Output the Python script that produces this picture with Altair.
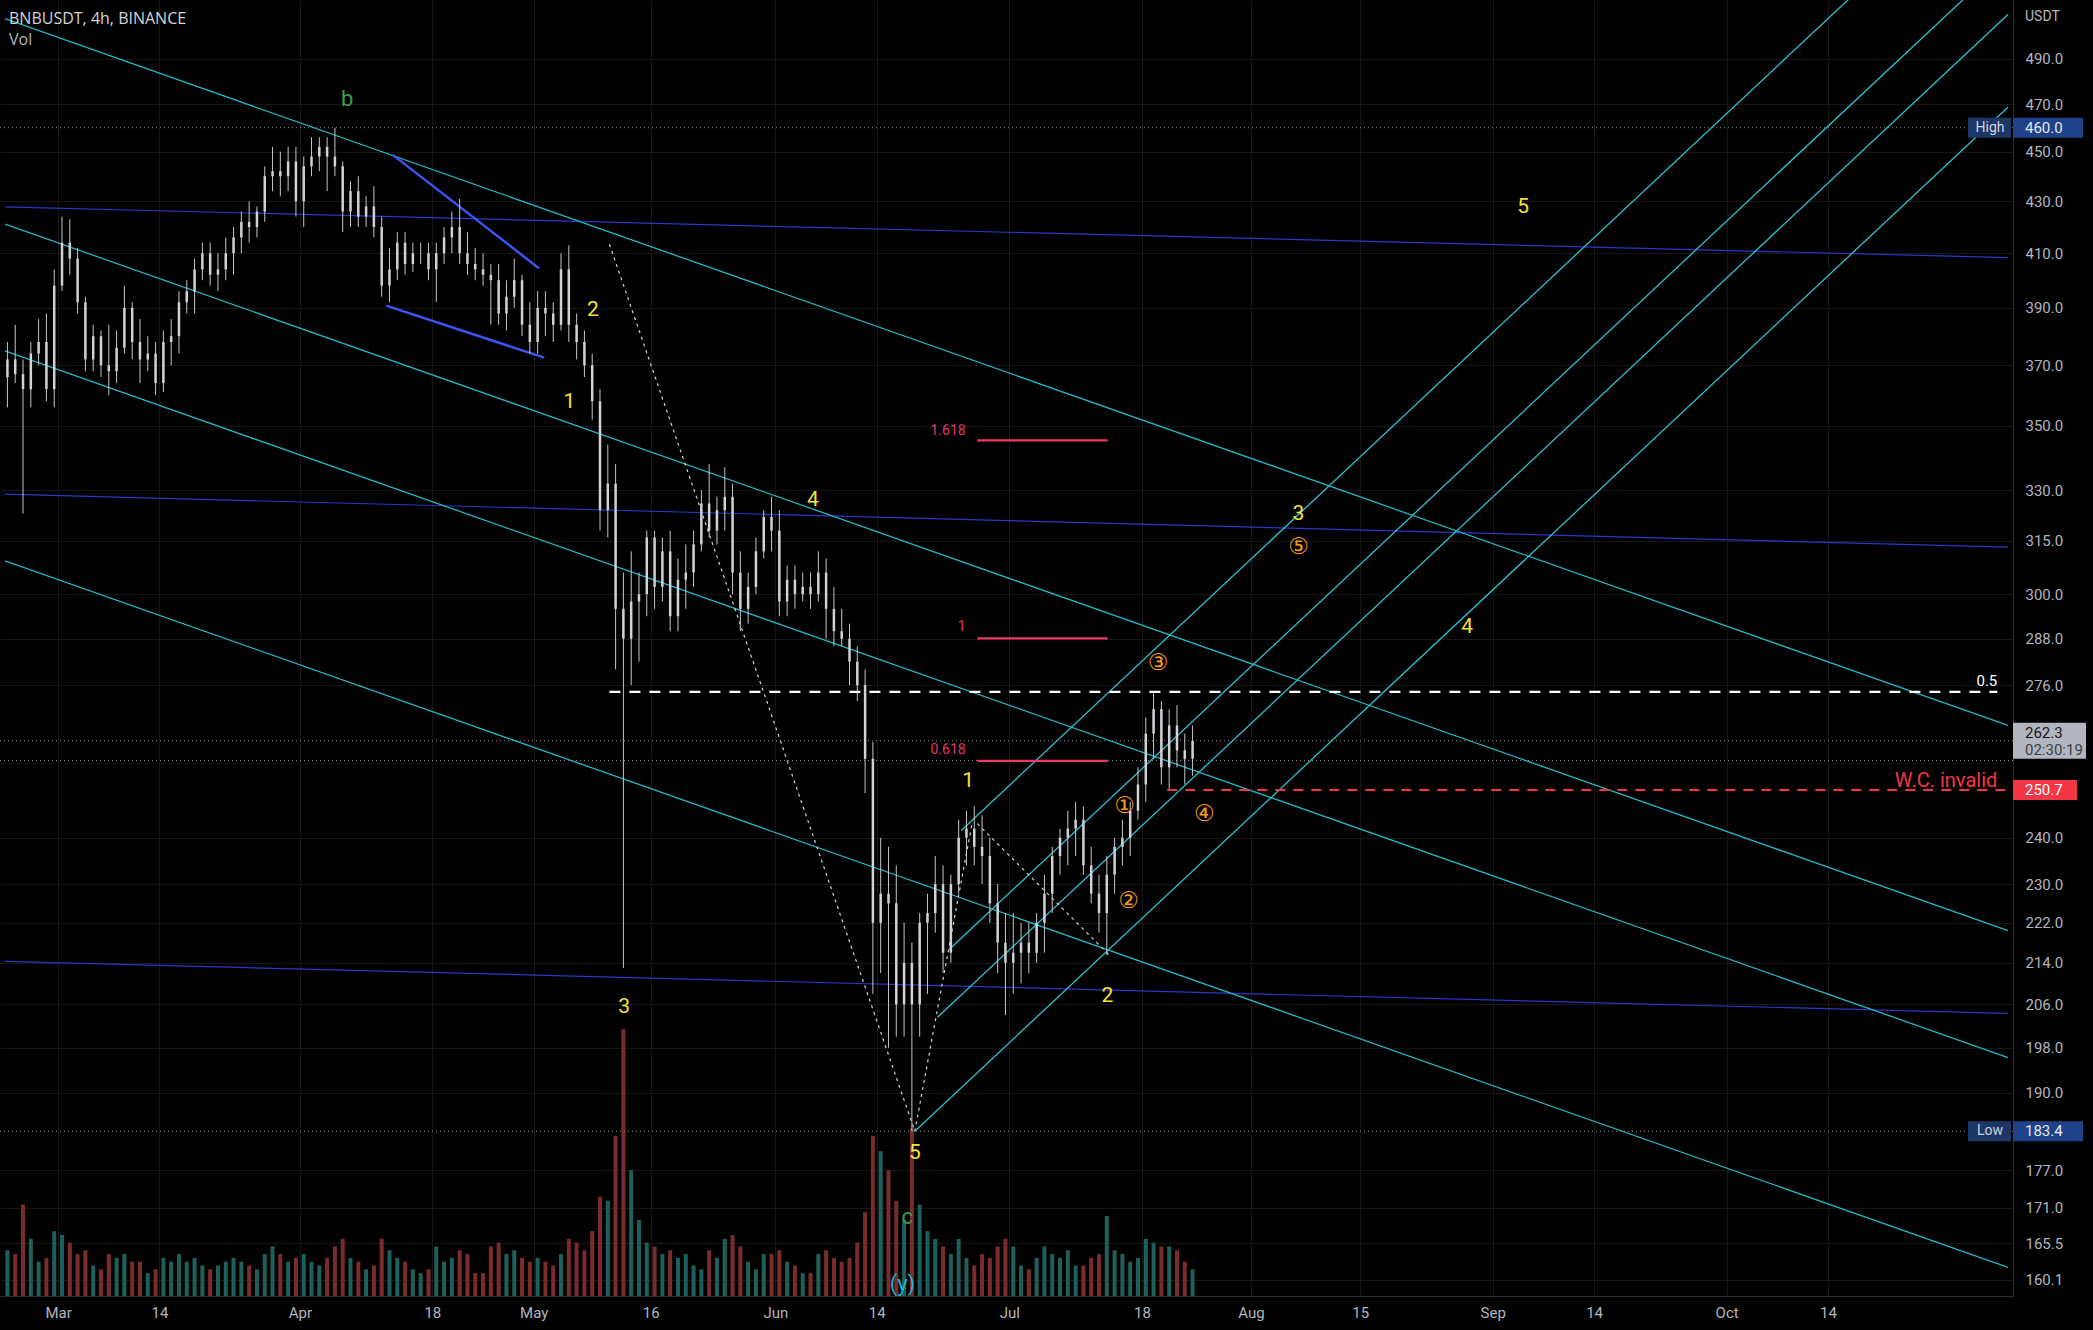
import altair as alt
import numpy as np
import pandas as pd

REF = pd.Timestamp("2022-03-01")


def to_days(values):
    return [float((pd.Timestamp(v) - REF) / pd.Timedelta(days=1)) for v in values]


# ---------------- axes ----------------
x_domain_dates = ["2022-02-22 04:30", "2022-11-06 02:00"]
y_domain = [157.7, 517.1]
x_tick_dates = ["2022-03-01", "2022-03-14", "2022-04-01", "2022-04-18", "2022-05-01", "2022-05-16",
                "2022-06-01", "2022-06-14", "2022-07-01", "2022-07-18", "2022-08-01", "2022-08-15",
                "2022-09-01", "2022-09-14", "2022-10-01", "2022-10-14"]
x_tick_labels = ["Mar", "14", "Apr", "18", "May", "16", "Jun", "14", "Jul", "18", "Aug", "15",
                 "Sep", "14", "Oct", "14"]
y_ticks = [490, 470, 450, 430, 410, 390, 370, 350, 330, 315, 300, 288, 276, 240, 230,
           222, 214, 206, 198, 190, 177, 171, 165.5, 160.1]

# ---------------- candles (daily, BNBUSDT) ----------------
first_day = "2022-02-22"
opens = [366, 372, 367, 362, 374, 378, 362,
         398, 414, 408, 392, 372, 380, 370, 368, 376, 390, 378, 372, 374, 364, 378, 380, 392, 396, 404, 410,
         402, 404, 410, 416, 422, 420, 426, 440, 442, 440, 446,
         430, 444, 448, 452, 448, 444, 426, 434, 424, 428, 420, 398, 404, 414, 406, 410, 410, 404, 410, 416,
         420, 410, 406, 404, 402, 400, 388, 394, 400, 384,
         378, 390, 388, 384, 404, 384, 378, 370, 358, 324, 332, 296, 288, 298, 300, 316, 302, 312, 294, 304,
         306, 314, 326, 318, 324, 328, 306, 296, 302, 312, 322,
         318, 298, 304, 300, 302, 300, 306, 296, 290, 288, 282, 276, 258, 222, 228, 226, 206, 214, 206, 222,
         224, 230, 216, 230, 240, 242, 238, 236, 226, 218,
         214, 216, 218, 216, 222, 228, 236, 240, 242, 244, 234, 228, 224, 232, 238, 240, 246, 252, 264, 270,
         256, 266, 260, 258]
highs = [378, 384, 372, 378, 386, 388, 404,
         424, 423, 412, 394, 384, 382, 384, 382, 398, 392, 386, 380, 378, 382, 386, 396, 400, 408, 414, 414,
         410, 416, 420, 426, 430, 428, 444, 452, 450, 452, 452,
         448, 456, 456, 456, 460, 446, 438, 440, 432, 436, 424, 412, 418, 418, 414, 414, 414, 414, 420, 426,
         431, 418, 412, 410, 406, 406, 400, 408, 402, 392,
         396, 396, 392, 410, 413, 388, 382, 374, 362, 344, 338, 306, 312, 306, 318, 318, 316, 318, 310, 314,
         318, 330, 338, 328, 337, 332, 312, 306, 316, 324, 328,
         324, 308, 308, 306, 306, 312, 310, 302, 296, 292, 286, 280, 262, 240, 238, 234, 222, 218, 224, 228,
         236, 234, 232, 244, 246, 247, 245, 240, 230, 224,
         224, 222, 222, 224, 232, 238, 242, 246, 248, 247, 238, 232, 236, 240, 244, 248, 256, 268, 274, 272,
         270, 271, 264, 266]
lows = [356, 364, 323, 356, 370, 358, 356,
        396, 402, 388, 368, 368, 366, 360, 364, 374, 372, 364, 368, 360, 361, 370, 374, 388, 388, 400, 398,
        396, 400, 402, 410, 414, 416, 422, 434, 432, 434, 424,
        420, 440, 442, 434, 440, 418, 420, 420, 420, 416, 394, 392, 400, 402, 403, 406, 400, 392, 406, 410,
        406, 402, 400, 398, 384, 384, 382, 390, 380, 374,
        374, 380, 378, 382, 378, 372, 366, 352, 318, 316, 280, 213, 276, 282, 294, 296, 298, 290, 290, 296,
        302, 312, 316, 314, 318, 300, 290, 292, 300, 310, 312,
        294, 294, 296, 298, 296, 298, 288, 286, 286, 276, 272, 250, 208, 212, 198, 200, 200, 183.4, 200, 208,
        220, 212, 214, 228, 234, 234, 230, 222, 212, 204,
        208, 210, 212, 214, 216, 224, 232, 234, 236, 232, 226, 220, 215.5, 228, 234, 236, 244, 248, 258, 252,
        250.7, 256, 252, 254]
closes = [372, 367, 362, 374, 378, 362, 398,
          414, 408, 392, 372, 380, 370, 368, 376, 390, 378, 372, 374, 364, 378, 380, 392, 396, 404, 410, 402,
          404, 410, 416, 422, 420, 426, 440, 442, 440, 446, 430,
          444, 448, 452, 448, 444, 426, 434, 424, 428, 420, 398, 404, 414, 406, 410, 410, 404, 410, 416, 420,
          410, 406, 404, 402, 400, 388, 394, 400, 384, 378,
          390, 388, 384, 404, 384, 378, 370, 358, 324, 332, 296, 288, 298, 300, 316, 302, 312, 294, 304, 306,
          314, 326, 318, 324, 328, 306, 296, 302, 312, 322, 318,
          298, 304, 300, 302, 300, 306, 296, 290, 288, 282, 276, 258, 222, 228, 226, 206, 214, 206, 222, 224,
          230, 216, 230, 240, 242, 238, 236, 226, 218, 214,
          216, 218, 216, 222, 228, 236, 240, 242, 244, 234, 228, 224, 232, 238, 240, 246, 252, 264, 270, 256,
          266, 260, 258, 262.3]
volumes = [120, 110, 240, 150, 90, 100, 170,
           160, 140, 110, 120, 80, 70, 110, 100, 110, 90, 90, 60, 70, 100, 90, 110, 90, 100, 80, 70,
           80, 90, 100, 90, 80, 70, 110, 130, 110, 90, 100,
           110, 90, 80, 100, 130, 150, 100, 90, 70, 80, 150, 120, 100, 90, 70, 60, 70, 130, 90, 100,
           120, 110, 60, 60, 130, 140, 110, 120, 100, 90,
           100, 90, 80, 110, 150, 140, 120, 170, 260, 250, 420, 700, 330, 200, 140, 130, 110, 120, 100, 110,
           80, 70, 120, 100, 150, 160, 130, 90, 70, 110, 110,
           120, 90, 80, 60, 60, 110, 120, 100, 90, 100, 140, 220, 420, 380, 330, 250, 200, 440, 240, 170,
           150, 130, 110, 150, 100, 80, 110, 100, 130, 150,
           130, 80, 70, 100, 130, 110, 100, 120, 80, 80, 100, 110, 210, 120, 110, 90, 100, 150, 140, 130,
           130, 120, 90, 70]
volume_max = 3400

# ---------------- drawings ----------------
chan_edge_dates = ["2022-02-22 04:30", "2022-11-06 02:00"]
desc_start_prices = [508.3, 421.1, 374.9, 309.3]
desc_end_prices = [266.0, 220.4, 196.2, 161.9]
flat_start_prices = [427.8, 328.8, 214.3]
flat_end_prices = [408.4, 313.2, 204.3]
asc_start_dates = ["2022-06-18 21:00", "2022-06-21 18:45", "2022-06-23 07:30", "2022-06-24 20:00"]
asc_start_prices = [183.4, 203.6, 216.7, 241.6]
asc_end_prices = [468.7, 510.3, 537.6, 593.3]
wedge_dates = [["2022-04-12 22:00", "2022-05-01 16:00"], ["2022-04-12 02:00", "2022-05-02 08:30"]]
wedge_prices = [[448.7, 404.4], [390.8, 372.6]]
zig_dates = [["2022-05-10 17:00", "2022-06-18 21:00"], ["2022-06-18 21:00", "2022-06-26 05:00"],
             ["2022-06-26 21:30", "2022-07-13 21:30"]]
zig_prices = [[413.4, 183.4], [183.4, 243.1], [243.1, 215.4]]
half_level = 274.3
half_dates = ["2022-05-10 17:00", "2022-11-04 17:00"]
invalid_level = 250.7
invalid_dates = ["2022-07-21 06:00", "2022-11-06 02:00"]
fib_names = ["1.618", "1", "0.618"]
fib_prices = [345.4, 288.1, 257.5]
fib_label_prices = [348.3, 291.0, 260.0]
fib_dates = ["2022-06-26 21:30", "2022-07-13 14:30"]
fib_label_date = "2022-06-25 09:30"
dotted_levels = [460.0, 183.4, 262.3, 257.6]

wave_text = ["2", "1", "4", "3", "5", "1", "2", "3", "4", "5"]
wave_dates = ["2022-05-08 14:00", "2022-05-05 14:00", "2022-06-05 19:00", "2022-05-12 14:00",
              "2022-06-18 21:30", "2022-06-25 17:00", "2022-07-13 14:00", "2022-08-07 02:00",
              "2022-08-28 17:00", "2022-09-04 21:30"]
wave_prices = [389.3, 357.8, 326.9, 205.6, 179.7, 252.8, 207.6, 322.9, 291.0, 427.8]
green_text = ["b", "c"]
green_dates = ["2022-04-07 02:00", "2022-06-17 21:30"]
green_prices = [472.3, 169.5]
circ_text = ["③", "⑤", "①", "②", "④"]
circ_dates = ["2022-07-20 02:00", "2022-08-07 02:00", "2022-07-15 19:00", "2022-07-16 07:00",
              "2022-07-26 00:00"]
circ_prices = [281.6, 313.2, 247.0, 226.5, 245.2]
y_text_date = "2022-06-17 07:00"
y_text_price = 159.4
right_note_date = "2022-11-04 17:00"
half_label_price = 277.1
invalid_label_price = 252.8

# ---------------- frames ----------------
cdates = pd.date_range(first_day, periods=len(opens), freq="D")
candles = pd.DataFrame({
    "d": ((cdates - REF) / pd.Timedelta(days=1)) + 0.5,
    "o": opens, "h": highs, "l": lows, "c": closes, "v": volumes,
})
candles["dir"] = np.where(candles["c"] >= candles["o"], "up", "down")


def seg_frame(date_pairs, price_pairs):
    rows = []
    for i, (dp, pp) in enumerate(zip(date_pairs, price_pairs)):
        for dd, pr in zip(to_days(dp), pp):
            rows.append({"id": i, "d": dd, "p": pr})
    return pd.DataFrame(rows)


desc_df = seg_frame([chan_edge_dates] * 4, list(zip(desc_start_prices, desc_end_prices)))
flat_df = seg_frame([chan_edge_dates] * 3, list(zip(flat_start_prices, flat_end_prices)))
asc_df = seg_frame([[s, chan_edge_dates[1]] for s in asc_start_dates], list(zip(asc_start_prices, asc_end_prices)))
wedge_df = seg_frame(wedge_dates, wedge_prices)
zig_df = seg_frame(zig_dates, zig_prices)
half_df = seg_frame([half_dates], [[half_level, half_level]])
inval_df = seg_frame([invalid_dates], [[invalid_level, invalid_level]])
fd = to_days(fib_dates)
fib_df = pd.DataFrame({"d": fd[0], "d2": fd[1], "p": fib_prices})
fib_lab = pd.DataFrame({"d": to_days([fib_label_date] * 3), "p": fib_label_prices, "t": fib_names})
dotted_df = pd.DataFrame({"p": dotted_levels})
wave_df = pd.DataFrame({"d": to_days(wave_dates), "p": wave_prices, "t": wave_text})
green_df = pd.DataFrame({"d": to_days(green_dates), "p": green_prices, "t": green_text})
circ_df = pd.DataFrame({"d": to_days(circ_dates), "p": circ_prices, "t": circ_text})
ylab_df = pd.DataFrame({"d": to_days([y_text_date]), "p": [y_text_price], "t": ["(y)"]})
half_lab = pd.DataFrame({"d": to_days([right_note_date]), "p": [half_label_price], "t": ["0.5"]})
inval_lab = pd.DataFrame({"d": to_days([right_note_date]), "p": [invalid_label_price], "t": ["W.C. invalid"]})

# ---------------- encodings ----------------
xd = to_days(x_domain_dates)
tick_days = to_days(x_tick_dates)
label_expr = " : ".join(f"datum.value == {v:g} ? '{l}'" for v, l in zip(tick_days, x_tick_labels)) + " : ''"

xs = alt.Scale(domain=xd, nice=False, zero=False)
xaxis = alt.Axis(values=tick_days, labelExpr=label_expr, title=None, grid=True, gridColor="#161616",
                 ticks=False, domain=True, domainColor="#2a2e39", labelColor="#b2b5be", labelFontSize=15,
                 labelFont="Roboto", labelPadding=9, labelOverlap=False, labelFlush=False)
ys = alt.Scale(type="log", domain=y_domain, nice=False, zero=False)
yaxis = alt.Axis(orient="right", values=y_ticks, format=".1f", title=None, grid=True, gridColor="#161616",
                 ticks=False, domain=True, domainColor="#2a2e39", labelColor="#b2b5be", labelFontSize=15,
                 labelFont="Roboto", labelPadding=12, labelOverlap=False, labelFlush=False)


def X(field="d"):
    return alt.X(f"{field}:Q", scale=xs, axis=xaxis)


def Y(field="p"):
    return alt.Y(f"{field}:Q", scale=ys, axis=yaxis)


# ---------------- layers ----------------
vol = alt.Chart(candles).mark_bar(width=4).encode(
    x=X(),
    y=alt.Y("v:Q", scale=alt.Scale(domain=[0, volume_max]), axis=None),
    color=alt.Color("dir:N", scale=alt.Scale(domain=["up", "down"], range=["#1d5f5a", "#7a2c2c"]), legend=None),
)

layers = []
layers.append(alt.Chart(dotted_df).mark_rule(color="#8a8d94", strokeWidth=1, strokeDash=[1, 3]).encode(y=Y()))
layers.append(alt.Chart(flat_df).mark_line(color="#2c36c8", strokeWidth=1.2, clip=True).encode(
    x=X(), y=Y(), detail="id:N"))
layers.append(alt.Chart(desc_df).mark_line(color="#25b4c4", strokeWidth=1.3, clip=True).encode(
    x=X(), y=Y(), detail="id:N"))
layers.append(alt.Chart(asc_df).mark_line(color="#2fc0d2", strokeWidth=1.3, clip=True).encode(
    x=X(), y=Y(), detail="id:N"))
layers.append(alt.Chart(wedge_df).mark_line(color="#3b55f6", strokeWidth=2.4).encode(
    x=X(), y=Y(), detail="id:N"))
layers.append(alt.Chart(candles).mark_rule(color="#c3c5ca", strokeWidth=1).encode(
    x=X(), y=Y("l"), y2="h:Q"))
layers.append(alt.Chart(candles).mark_bar(width=2.5, color="#d0d2d6").encode(
    x=X(), y=Y("o"), y2="c:Q"))
layers.append(alt.Chart(zig_df).mark_line(color="#cfd2d8", strokeWidth=1.2, strokeDash=[3, 4]).encode(
    x=X(), y=Y(), detail="id:N"))
layers.append(alt.Chart(half_df).mark_line(color="#ffffff", strokeWidth=2.2, strokeDash=[11, 9]).encode(
    x=X(), y=Y()))
layers.append(alt.Chart(inval_df).mark_line(color="#f23645", strokeWidth=2, strokeDash=[10, 8], clip=True).encode(
    x=X(), y=Y()))
layers.append(alt.Chart(fib_df).mark_rule(color="#f0386b", strokeWidth=2.2).encode(
    x=X(), x2="d2:Q", y=Y()))
layers.append(alt.Chart(fib_lab).mark_text(color="#e0356a", fontSize=14, font="Roboto", align="right",
                                           baseline="middle").encode(x=X(), y=Y(), text="t:N"))
layers.append(alt.Chart(wave_df).mark_text(color="#f7e13a", fontSize=21, font="Roboto", align="center",
                                           baseline="middle").encode(x=X(), y=Y(), text="t:N"))
layers.append(alt.Chart(green_df).mark_text(color="#3f9e44", fontSize=22, font="Roboto", align="center",
                                            baseline="middle").encode(x=X(), y=Y(), text="t:N"))
layers.append(alt.Chart(ylab_df).mark_text(color="#1fb3cc", fontSize=22, font="Roboto", align="center",
                                           baseline="middle").encode(x=X(), y=Y(), text="t:N"))
layers.append(alt.Chart(circ_df).mark_text(color="#f59a1c", fontSize=23, font="DejaVu Sans", align="center",
                                           baseline="middle").encode(x=X(), y=Y(), text="t:N"))
layers.append(alt.Chart(half_lab).mark_text(color="#ffffff", fontSize=15, font="Roboto", align="right",
                                            baseline="middle").encode(x=X(), y=Y(), text="t:N"))
layers.append(alt.Chart(inval_lab).mark_text(color="#f23645", fontSize=20, font="Roboto", align="right",
                                             baseline="middle").encode(x=X(), y=Y(), text="t:N"))

# price-scale boxes
hl_df = pd.DataFrame({"p": [460.0, 183.4], "t": ["High", "Low"], "v": ["460.0", "183.4"]})
layers.append(alt.Chart(hl_df).mark_rule(color="#1c3766", strokeWidth=20, strokeCap="butt").encode(
    y=Y(), x=alt.value(1968), x2=alt.value(2011)))
layers.append(alt.Chart(hl_df).mark_text(color="#d1d4dc", fontSize=14, font="Roboto", align="center",
                                         baseline="middle").encode(y=Y(), x=alt.value(1990), text="t:N"))
layers.append(alt.Chart(hl_df).mark_rule(color="#1f4288", strokeWidth=20, strokeCap="butt").encode(
    y=Y(), x=alt.value(2013), x2=alt.value(2083)))
layers.append(alt.Chart(hl_df).mark_text(color="#e6e8ee", fontSize=15, font="Roboto", align="left",
                                         baseline="middle").encode(y=Y(), x=alt.value(2025), text="v:N"))
last_df = pd.DataFrame({"p": [262.3], "t": ["262.3"], "u": ["02:30:19"]})
layers.append(alt.Chart(last_df).mark_rule(color="#b2b5be", strokeWidth=36, strokeCap="butt").encode(
    y=Y(), x=alt.value(2013), x2=alt.value(2086)))
layers.append(alt.Chart(last_df).mark_text(color="#131722", fontSize=15, font="Roboto", align="left",
                                           baseline="middle", dy=-8).encode(y=Y(), x=alt.value(2025), text="t:N"))
layers.append(alt.Chart(last_df).mark_text(color="#3a3e48", fontSize=15, font="Roboto", align="left",
                                           baseline="middle", dy=9).encode(y=Y(), x=alt.value(2025), text="u:N"))
inv_box = pd.DataFrame({"p": [invalid_level], "t": ["250.7"]})
layers.append(alt.Chart(inv_box).mark_rule(color="#f23645", strokeWidth=20, strokeCap="butt").encode(
    y=Y(), x=alt.value(2013), x2=alt.value(2077)))
layers.append(alt.Chart(inv_box).mark_text(color="#ffffff", fontSize=15, font="Roboto", align="left",
                                           baseline="middle").encode(y=Y(), x=alt.value(2025), text="t:N"))

# header texts
hdr = pd.DataFrame({"t": ["BNBUSDT, 4h, BINANCE"], "v": ["Vol"], "u": ["USDT"]})
layers.append(alt.Chart(hdr).mark_text(color="#d1d4dc", fontSize=16, font="Open Sans", align="left",
                                       baseline="middle").encode(x=alt.value(9), y=alt.value(19), text="t:N"))
layers.append(alt.Chart(hdr).mark_text(color="#b2b5be", fontSize=16, font="Open Sans", align="left",
                                       baseline="middle").encode(x=alt.value(9), y=alt.value(40), text="v:N"))
layers.append(alt.Chart(hdr).mark_text(color="#b2b5be", fontSize=14, font="Roboto", align="left",
                                       baseline="middle").encode(x=alt.value(2025), y=alt.value(17), text="u:N"))

price_group = alt.layer(*layers)

chart = alt.layer(vol, price_group).resolve_scale(y="independent").properties(
    width=2013, height=1296,
    padding={"left": 0, "top": 0, "right": 80, "bottom": 34},
    autosize=alt.AutoSizeParams(type="none"),
    background="#000000",
).configure_view(stroke=None)

chart.save("out.html", embed_options={"renderer": "svg", "actions": False})
